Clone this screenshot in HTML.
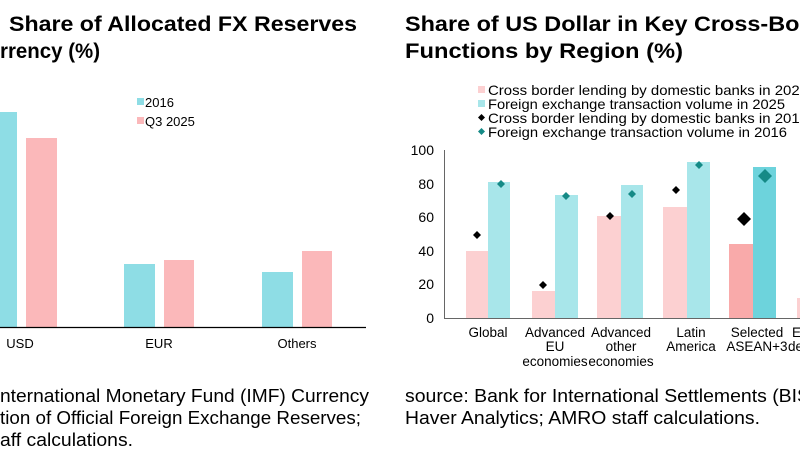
<!DOCTYPE html>
<html><head><meta charset="utf-8"><style>
html,body{margin:0;padding:0;background:#fff;width:800px;height:450px;overflow:hidden}
svg{display:block}
text{font-family:"Liberation Sans",Arial,sans-serif}
</style></head><body>
<svg width="800" height="450" viewBox="0 0 800 450">
<!-- titles -->
<g font-weight="bold" font-size="21" fill="#000">
<text x="9" y="31" textLength="348" lengthAdjust="spacingAndGlyphs">Share of Allocated FX Reserves</text>
<text x="0" y="58" textLength="100" lengthAdjust="spacingAndGlyphs">rrency (%)</text>
<text x="405" y="31" textLength="440" lengthAdjust="spacingAndGlyphs">Share of US Dollar in Key Cross-Border</text>
<text x="405" y="58" textLength="278" lengthAdjust="spacingAndGlyphs">Functions by Region (%)</text>
</g>
<!-- left chart -->
<rect x="0" y="112" width="17" height="215" fill="#8edde5"/>
<rect x="26" y="138" width="31" height="189" fill="#fbb8ba"/>
<rect x="124" y="264" width="31" height="63" fill="#8edde5"/>
<rect x="164" y="260" width="30" height="67" fill="#fbb8ba"/>
<rect x="262" y="272" width="31" height="55" fill="#8edde5"/>
<rect x="302" y="251" width="30" height="76" fill="#fbb8ba"/>
<line x1="0" y1="327.5" x2="366" y2="327.5" stroke="#000" stroke-width="1.2"/>
<g font-size="13" fill="#000" text-anchor="middle">
<text x="20" y="348">USD</text><text x="159" y="348">EUR</text><text x="297" y="348">Others</text>
</g>
<rect x="137" y="98" width="7" height="7" fill="#8edde5"/>
<rect x="137" y="117" width="7" height="7" fill="#fbb8ba"/>
<g font-size="13"><text x="145" y="107">2016</text><text x="145" y="126">Q3 2025</text></g>
<!-- right chart -->
<g font-size="14" fill="#000">
<rect x="478" y="86" width="7" height="7" fill="#fcd0d1"/>
<text x="488" y="95" textLength="320" lengthAdjust="spacingAndGlyphs">Cross border lending by domestic banks in 2025</text>
<rect x="478" y="100" width="7" height="7" fill="#a8e6ea"/>
<text x="488" y="109" textLength="297" lengthAdjust="spacingAndGlyphs">Foreign exchange transaction volume in 2025</text>
<polygon points="481.5,114 485,117.5 481.5,121 478,117.5" fill="#000"/>
<text x="488" y="123" textLength="320" lengthAdjust="spacingAndGlyphs">Cross border lending by domestic banks in 2015</text>
<polygon points="481.5,128 485,131.5 481.5,135 478,131.5" fill="#158a86"/>
<text x="488" y="137" textLength="299" lengthAdjust="spacingAndGlyphs">Foreign exchange transaction volume in 2016</text>
</g>
<g font-size="14" text-anchor="end">
<text x="434" y="155">100</text><text x="434" y="189">80</text><text x="434" y="222">60</text>
<text x="434" y="256">40</text><text x="434" y="289">20</text><text x="434" y="323">0</text>
</g>
<line x1="444.5" y1="150" x2="444.5" y2="318" stroke="#666" stroke-width="1"/>
<line x1="444" y1="318.5" x2="800" y2="318.5" stroke="#666" stroke-width="1"/>
<g>
<rect x="466" y="251" width="22" height="67" fill="#fcd0d1"/><rect x="488" y="182" width="22" height="136" fill="#a8e6ea"/>
<rect x="532" y="291" width="23" height="27" fill="#fcd0d1"/><rect x="555" y="195" width="23" height="123" fill="#a8e6ea"/>
<rect x="597" y="216" width="24" height="102" fill="#fcd0d1"/><rect x="621" y="185" width="22" height="133" fill="#a8e6ea"/>
<rect x="663" y="207" width="24" height="111" fill="#fcd0d1"/><rect x="687" y="162" width="23" height="156" fill="#a8e6ea"/>
<rect x="729" y="244" width="24" height="74" fill="#f9aaaa"/><rect x="753" y="167" width="23" height="151" fill="#6dd3dc"/>
<rect x="797" y="298" width="3" height="20" fill="#fcd0d1"/>
</g>
<g fill="#000">
<polygon points="477,231 481,235 477,239 473,235"/>
<polygon points="543,281 547,285 543,289 539,285"/>
<polygon points="610,212 614,216 610,220 606,216"/>
<polygon points="676,186 680,190 676,194 672,190"/>
<polygon points="744,212 751,219 744,226 737,219"/>
</g>
<g fill="#158a86">
<polygon points="501,180 505,184 501,188 497,184"/>
<polygon points="566,192 570,196 566,200 562,196"/>
<polygon points="632,190 636,194 632,198 628,194"/>
<polygon points="699,161 703,165 699,169 695,165"/>
<polygon points="765,169 772,176 765,183 758,176"/>
</g>
<g font-size="13.5" text-anchor="middle">
<text x="488" y="337">Global</text>
<text x="555" y="337">Advanced</text><text x="555" y="351">EU</text><text x="555" y="366">economies</text>
<text x="621" y="337">Advanced</text><text x="621" y="351">other</text><text x="621" y="366">economies</text>
<text x="691" y="337">Latin</text><text x="691" y="351">America</text>
<text x="757" y="337">Selected</text><text x="757" y="351">ASEAN+3</text>
<text x="792" y="337" text-anchor="start">E</text><text x="788" y="351" text-anchor="start">de</text>
</g>
<!-- sources -->
<g font-size="18" fill="#000">
<text x="0" y="402" textLength="369" lengthAdjust="spacingAndGlyphs">nternational Monetary Fund (IMF) Currency</text>
<text x="0" y="424" textLength="361" lengthAdjust="spacingAndGlyphs">tion of Official Foreign Exchange Reserves;</text>
<text x="0" y="446" textLength="133" lengthAdjust="spacingAndGlyphs">aff calculations.</text>
<text x="405" y="402" textLength="405" lengthAdjust="spacingAndGlyphs">source: Bank for International Settlements (BIS</text>
<text x="405" y="424" textLength="355" lengthAdjust="spacingAndGlyphs">Haver Analytics; AMRO staff calculations.</text>
</g>
</svg>
</body></html>
